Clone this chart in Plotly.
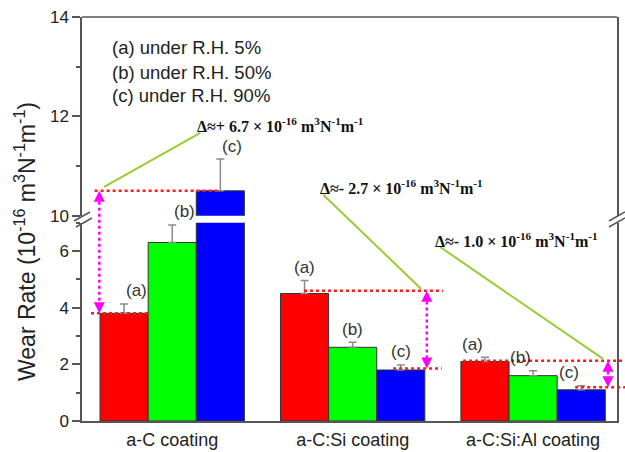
import plotly.graph_objects as go

# ---------------- data ----------------
categories = ["a-C coating", "a-C:Si coating", "a-C:Si:Al coating"]
series_tags = ["(a)", "(b)", "(c)"]
legend_lines = ["(a) under R.H. 5%", "(b) under R.H. 50%", "(c) under R.H. 90%"]
wear_rh5 = [3.8, 4.5, 2.1]
wear_rh50 = [6.3, 2.6, 1.6]
wear_rh90 = [10.5, 1.8, 1.1]
err_rh5 = [0.33, 0.46, 0.15]
err_rh50 = [0.62, 0.18, 0.17]
err_rh90 = [0.64, 0.18, 0.14]
delta_values = ["+ 6.7", "- 2.7", "- 1.0"]
low_ticks = [0, 2, 4, 6]
high_ticks = [10, 12, 14]

# ---------------- layout constants ----------------
W, H = 625, 452
ML, MR, MT, MB = 82, 8, 17, 31
X_RANGE = [-0.5, 2.465]
LO_RANGE = [0, 7]
HI_RANGE = [10, 14]
LO_DOM = [0.0, 0.491]
HI_DOM = [0.5083, 1.0]
COLORS = ["#ff0000", "#00ff00", "#0000ff"]
AXC = "#555555"
TXT = "#222222"
SANS = "Liberation Sans, Arial, sans-serif"
SERIF = "Liberation Serif, Times New Roman, serif"

values = [wear_rh5, wear_rh50, wear_rh90]
errors = [err_rh5, err_rh50, err_rh90]
xs = list(range(len(categories)))


def xpap(v):
    return (v - X_RANGE[0]) / (X_RANGE[1] - X_RANGE[0])


def ypap(v):
    if v <= 8.5:
        r, d = LO_RANGE, LO_DOM
    else:
        r, d = HI_RANGE, HI_DOM
    return d[0] + (v - r[0]) / (r[1] - r[0]) * (d[1] - d[0])


def pix(px, py):
    return (px - ML) / (W - ML - MR), (H - MB - py) / (H - MT - MB)


fig = go.Figure()
for i in range(3):
    for yax in ("y", "y2"):
        show_err = (yax == "y") or (i == 2)
        fig.add_trace(go.Bar(
            x=xs, y=values[i], xaxis="x", yaxis=yax,
            marker=dict(color=COLORS[i], line=dict(color="#333333", width=1)),
            error_y=dict(type="data", symmetric=False, array=errors[i],
                         arrayminus=[0] * 3, color="#8a8a8a", thickness=1.5,
                         width=4, visible=show_err),
            offsetgroup=str(i), showlegend=False, hoverinfo="skip",
        ))

shapes = []
annotations = []

# bar tags (a)/(b)/(c)
bar_w = 0.8 / 3
for i in range(3):
    for g in range(3):
        top = values[i][g] + errors[i][g]
        annotations.append(dict(
            x=xpap(g + (i - 1) * bar_w), y=ypap(top), xref="paper", yref="paper",
            text=series_tags[i], showarrow=False, yanchor="middle", yshift=13,
            font=dict(family=SANS, size=17, color="#333333")))

# red dotted level lines: (value, x0, x1)
red_levels = [(10.5, -0.43, 0.267), (3.8, -0.45, -0.133), (4.6, 0.73, 1.50),
              (1.85, 1.224, 1.494), (2.13, 1.612, 2.51), (1.19, 2.233, 2.51)]
for v, a, b in red_levels:
    shapes.append(dict(type="line", xref="paper", yref="paper",
                       x0=xpap(a), x1=xpap(b), y0=ypap(v), y1=ypap(v),
                       line=dict(color="#ff1a1a", width=2.5, dash="dot")))

# magenta double arrows: (x, y_top, y_bottom)
mag = [(-0.404, 10.5, 3.8), (1.411, 4.6, 1.85), (2.415, 2.13, 1.19)]
for x, yt, yb in mag:
    shapes.append(dict(type="line", xref="paper", yref="paper",
                       x0=xpap(x), x1=xpap(x), y0=ypap(yt) - 0.012, y1=ypap(yb) + 0.012,
                       line=dict(color="#ff00ff", width=2.5, dash="dot")))
    for yy, ay in ((yt, 9), (yb, -9)):
        annotations.append(dict(x=xpap(x), y=ypap(yy), xref="paper", yref="paper",
                                ax=0, ay=ay, text="", showarrow=True, arrowhead=2,
                                arrowsize=1.1, arrowwidth=2, arrowcolor="#ff00ff",
                                standoff=0, startstandoff=0))

# green leader lines
greens = [((0.155, 11.667), (-0.377, 10.58)),
          ((0.837, 10.42), (1.380, 4.66)),
          ((1.485, 6.14), (2.388, 2.19))]
for (x0, y0), (x1, y1) in greens:
    shapes.append(dict(type="line", xref="paper", yref="paper",
                       x0=xpap(x0), y0=ypap(y0), x1=xpap(x1), y1=ypap(y1),
                       line=dict(color="#99cc33", width=2)))

# delta texts
delta_pos = [(0.127, 11.83), (0.809, 10.58), (1.446, 6.39)]
for (x, y), d in zip(delta_pos, delta_values):
    annotations.append(dict(
        x=xpap(x), y=ypap(y), xref="paper", yref="paper", xanchor="left",
        yanchor="middle", showarrow=False,
        text="<b>\u0394\u2248" + d + " \u00d7 10<sup>-16</sup> m<sup>3</sup>N<sup>-1</sup>m<sup>-1</sup></b>",
        font=dict(family=SERIF, size=16, color="#111111")))

# legend-like text
for k, t in enumerate(legend_lines):
    px_, py_ = pix(110, 48 + 24 * k)
    annotations.append(dict(x=px_, y=py_, xref="paper", yref="paper", xanchor="left",
                            yanchor="middle", showarrow=False, text=t,
                            font=dict(family=SANS, size=18.5, color=TXT)))

# y title
tx, ty = pix(25, 242)
annotations.append(dict(x=tx, y=ty, xref="paper", yref="paper", textangle=-90,
                        showarrow=False, xanchor="center", yanchor="middle",
                        text="Wear Rate (10<sup>-16</sup> m<sup>3</sup>N<sup>-1</sup>m<sup>-1</sup>)",
                        font=dict(family=SANS, size=23, color=TXT)))

# top frame line
shapes.append(dict(type="line", xref="paper", yref="paper", x0=0, x1=1, y0=1, y1=1,
                   line=dict(color=AXC, width=1.5)))

# axis break marks
for (a, b), (c, d) in [((74, 221), (90, 212)), ((76, 227), (92, 218)),
                       ((609, 221), (625, 212)), ((609, 227), (625, 218))]:
    p0 = pix(a, b)
    p1 = pix(c, d)
    shapes.append(dict(type="line", xref="paper", yref="paper",
                       x0=p0[0], y0=p0[1], x1=p1[0], y1=p1[1],
                       line=dict(color=AXC, width=1.5)))

yax_common = dict(showline=True, linecolor=AXC, linewidth=1.5, mirror=True,
                  ticks="outside", ticklen=8, tickwidth=1.5, tickcolor=AXC,
                  showgrid=False, zeroline=False, automargin=False,
                  tickfont=dict(family=SANS, size=17, color=TXT),
                  minor=dict(ticks="outside", ticklen=4, tickwidth=1.5,
                             tickcolor=AXC, dtick=1, showgrid=False))

fig.update_layout(
    width=W, height=H, autosize=False,
    margin=dict(l=ML, r=MR, t=MT, b=MB, pad=0, autoexpand=False),
    paper_bgcolor="white", plot_bgcolor="white",
    barmode="group", bargap=0.2, bargroupgap=0,
    xaxis=dict(range=X_RANGE, tickvals=xs, ticktext=categories, showline=True,
               linecolor=AXC, linewidth=1.5, ticks="", showgrid=False,
               zeroline=False, anchor="y", ticklabelstandoff=2, automargin=False,
               tickfont=dict(family=SANS, size=18, color=TXT)),
    yaxis=dict(domain=LO_DOM, range=LO_RANGE, tickvals=low_ticks, anchor="x",
               **yax_common),
    yaxis2=dict(domain=HI_DOM, range=HI_RANGE, tickvals=high_ticks, anchor="x",
                **yax_common),
    shapes=shapes, annotations=annotations,
)

fig.write_html("out.html")
